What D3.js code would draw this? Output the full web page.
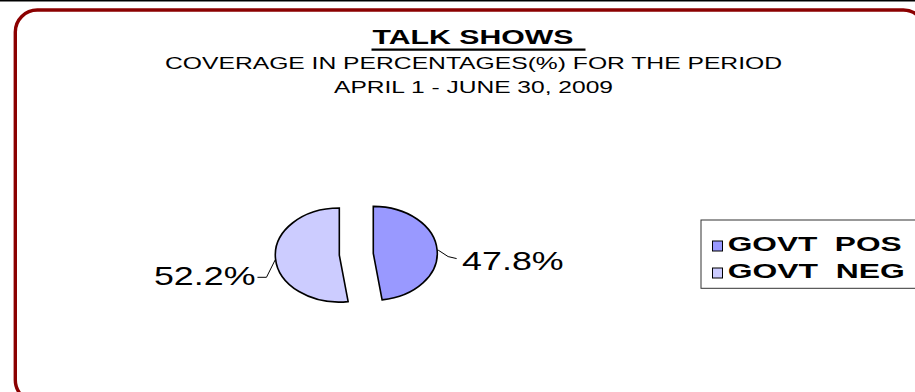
<!DOCTYPE html>
<html>
<head>
<meta charset="utf-8">
<script src="https://cdn.jsdelivr.net/npm/d3@7"></script>
<style>
  html, body { margin: 0; padding: 0; background: #fff; }
  svg { display: block; }
  text { font-family: "Liberation Sans", Arial, sans-serif; fill: #000; white-space: pre; }
</style>
</head>
<body>
<svg id="chart" width="915" height="392"></svg>
<script>
// Chart content
const titleText = "TALK SHOWS";
const subtitleLines = ["COVERAGE IN PERCENTAGES(%) FOR THE PERIOD", "APRIL 1 - JUNE 30, 2009"];
const categories = ["GOVT  POS", "GOVT  NEG"];
const values = [47.8, 52.2];
const sliceColors = ["#9999FF", "#CCCCFF"];

const svg = d3.select("#chart");

// top rule and rounded frame
svg.append("line")
  .attr("x1", 0).attr("x2", 915).attr("y1", 0.75).attr("y2", 0.75)
  .attr("stroke", "#000").attr("stroke-width", 1.5);

svg.append("rect")
  .attr("x", 15.3).attr("y", 10)
  .attr("width", 910).attr("height", 392)
  .attr("rx", 22).attr("ry", 22)
  .attr("fill", "none")
  .attr("stroke", "#8B0000").attr("stroke-width", 3.4);

// titles (the chart is rendered horizontally stretched, so glyphs are widened)
const title = svg.append("text")
  .attr("x", 473).attr("y", 44)
  .attr("text-anchor", "middle")
  .attr("font-size", 19.5).attr("font-weight", "bold")
  .attr("textLength", 201).attr("lengthAdjust", "spacingAndGlyphs")
  .text(titleText);
const tb = title.node().getBBox();
svg.append("line")
  .attr("x1", tb.x - 1).attr("x2", tb.x + tb.width + 12)
  .attr("y1", 49.6).attr("y2", 49.6)
  .attr("stroke", "#000").attr("stroke-width", 2.4);

const subWidths = [617, 279];
const subBase = [69.3, 93.3];
subtitleLines.forEach((s, i) => {
  svg.append("text")
    .attr("x", 473.5).attr("y", subBase[i])
    .attr("text-anchor", "middle")
    .attr("font-size", 16.2)
    .attr("textLength", subWidths[i]).attr("lengthAdjust", "spacingAndGlyphs")
    .text(s);
});

// pie, drawn on a circle then squeezed into an ellipse
const cx = 356.3, cy = 254.2, rx = 64, ry = 47, R = 100, explode = 0.266;
const pie = d3.pie().sort(null).value(d => d)(values);
const arc = d3.arc().innerRadius(0).outerRadius(R);

const slices = svg.append("g").selectAll("g.slice")
  .data(pie).enter().append("g")
  .attr("class", "slice")
  .attr("transform", d => {
    const mid = (d.startAngle + d.endAngle) / 2;
    const ox = cx + explode * rx * Math.sin(mid);
    const oy = cy - explode * ry * Math.cos(mid);
    return `translate(${ox},${oy}) scale(${rx / R},${ry / R})`;
  });

slices.append("path")
  .attr("d", arc)
  .attr("fill", (d, i) => sliceColors[i])
  .attr("stroke", "#000")
  .attr("stroke-width", 1.6)
  .attr("vector-effect", "non-scaling-stroke")
  .attr("stroke-linejoin", "miter");

// leader lines and value labels
const fmt = v => d3.format(".1f")(v) + "%";
const labelWidth = 101.5;
pie.forEach((d, i) => {
  const mid = (d.startAngle + d.endAngle) / 2;
  const ox = cx + explode * rx * Math.sin(mid);
  const oy = cy - explode * ry * Math.cos(mid);
  const ex = ox + rx * Math.sin(mid);
  const ey = oy - ry * Math.cos(mid);
  const right = Math.sin(mid) > 0;
  const pts = right
    ? [[ex + 1, ey], [ex + 11, ey + 6.5], [ex + 19.5, ey + 8.5]]
    : [[ex, ey + 1], [ex - 9, ey + 19], [ex - 18, ey + 19]];
  svg.append("path")
    .attr("d", d3.line()(pts))
    .attr("fill", "none").attr("stroke", "#000").attr("stroke-width", 1);
  svg.append("text")
    .attr("x", right ? pts[2][0] + 5.5 : pts[2][0] - 2)
    .attr("y", right ? 270 : 285)
    .attr("text-anchor", right ? "start" : "end")
    .attr("font-size", 25.6)
    .attr("textLength", labelWidth).attr("lengthAdjust", "spacingAndGlyphs")
    .text(fmt(values[i]));
});

// legend
const legend = svg.append("g");
legend.append("rect")
  .attr("x", 701).attr("y", 220).attr("width", 240).attr("height", 68.3)
  .attr("fill", "#fff").attr("stroke", "#333").attr("stroke-width", 1);
const legBase = [250.7, 277.7];
const legWidths = [174, 177];
categories.forEach((c, i) => {
  legend.append("rect")
    .attr("x", 712.5).attr("y", legBase[i] - 9.7)
    .attr("width", 10).attr("height", 10)
    .attr("fill", sliceColors[i]).attr("stroke", "#000").attr("stroke-width", 1);
  legend.append("text")
    .attr("x", 727.7).attr("y", legBase[i])
    .attr("font-size", 19.5).attr("font-weight", "bold")
    .attr("textLength", legWidths[i]).attr("lengthAdjust", "spacingAndGlyphs")
    .text(c);
});
</script>
</body>
</html>
